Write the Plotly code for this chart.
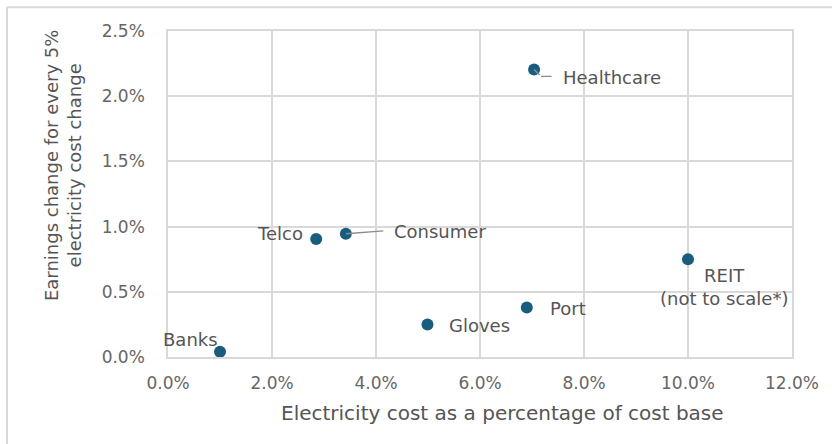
import plotly.graph_objects as go

sectors = ["Banks", "Telco", "Consumer", "Healthcare", "Gloves", "Port", "REIT"]
elec_cost_pct = [1.0, 2.85, 3.42, 7.04, 4.99, 6.90, 10.0]
earnings_change_pct = [0.04, 0.905, 0.945, 2.205, 0.25, 0.38, 0.75]
label_text = ["Banks", "Telco", "Consumer", "Healthcare", "Gloves", "Port", "REIT<br>(not to scale*)"]
x_ticks = [0, 2, 4, 6, 8, 10, 12]
y_ticks = [0, 0.5, 1.0, 1.5, 2.0, 2.5]

FONT = "DejaVu Sans"
MARKER = "#195d7e"
GRID = "#d9d9d9"
TXT = "#555555"

fig = go.Figure()
fig.add_trace(go.Scatter(
    x=elec_cost_pct, y=earnings_change_pct, mode="markers",
    marker=dict(size=12, color=MARKER), hoverinfo="text", text=sectors,
))

# label placement (pixel offsets from each point)
offsets = {
    "Banks": dict(xanchor="center", xshift=-30, yshift=12),
    "Telco": dict(xanchor="right", xshift=-11, yshift=5),
    "Consumer": dict(xanchor="left", xshift=46, yshift=2),
    "Healthcare": dict(xanchor="left", xshift=27, yshift=-8),
    "Gloves": dict(xanchor="left", xshift=20, yshift=-1),
    "Port": dict(xanchor="left", xshift=21, yshift=-1),
    "REIT": dict(xanchor="center", xshift=36, yshift=-28),
}
for name, xv, yv, lab in zip(sectors, elec_cost_pct, earnings_change_pct, label_text):
    o = offsets[name]
    fig.add_annotation(x=xv, y=yv, text=lab, showarrow=False, align="center",
                       font=dict(family=FONT, size=18, color=TXT), yanchor="middle", **o)

# leader lines
lead = {"Consumer": [dict(xshift=0, yshift=0, ax=39, ay=-3)],
        "Healthcare": [dict(xshift=0, yshift=0, ax=7, ay=7),
                       dict(xshift=7, yshift=-7, ax=12, ay=0)]}
for name, segs in lead.items():
    i = sectors.index(name)
    for s in segs:
        fig.add_annotation(x=elec_cost_pct[i], y=earnings_change_pct[i], text="",
                           showarrow=True, arrowhead=0, arrowwidth=1.3, arrowcolor="#8c8c8c",
                           standoff=0, startstandoff=0, axref="pixel", ayref="pixel", **s)

# axis titles
fig.add_annotation(xref="paper", yref="paper", x=(502 - 168) / 624, y=(357.3 - 413) / 326.6,
                   text="Electricity cost as a percentage of cost base", showarrow=False,
                   font=dict(family=FONT, size=20, color=TXT), xanchor="center", yanchor="middle")
fig.add_annotation(xref="paper", yref="paper", x=(63 - 168) / 624, y=(357.3 - 165) / 326.6,
                   text="Earnings change for every 5%<br>electricity cost change", showarrow=False,
                   textangle=-90, font=dict(family=FONT, size=18, color=TXT),
                   xanchor="center", yanchor="middle", align="center")

# outer chart border (partially visible)
fig.add_shape(type="line", xref="paper", yref="paper", x0=(7 - 168) / 624, x1=1.2,
              y0=(357.3 - 7) / 326.6, y1=(357.3 - 7) / 326.6, line=dict(color=GRID, width=2))
fig.add_shape(type="line", xref="paper", yref="paper", x0=(7 - 168) / 624, x1=(7 - 168) / 624,
              y0=(357.3 - 7) / 326.6, y1=-0.5, line=dict(color=GRID, width=2))

fig.update_layout(
    width=832, height=444, margin=dict(l=168, r=40, t=31, b=87),
    paper_bgcolor="white", plot_bgcolor="white", showlegend=False,
    font=dict(family=FONT, color=TXT),
)
fig.update_xaxes(range=[0, 12], tickvals=x_ticks, ticktext=[f"{v:.1f}%" for v in x_ticks],
                 showgrid=True, gridcolor=GRID, gridwidth=1.5, zeroline=False,
                 showline=True, linecolor=GRID, linewidth=1.5, mirror=True,
                 tickfont=dict(family=FONT, size=17, color="#666666"), ticks="",
                 ticklabelstandoff=10)
fig.update_yaxes(range=[0, 2.5], tickvals=y_ticks, ticktext=[f"{v:.1f}%" for v in y_ticks],
                 showgrid=True, gridcolor=GRID, gridwidth=1.5, zeroline=False,
                 showline=True, linecolor=GRID, linewidth=1.5, mirror=True,
                 tickfont=dict(family=FONT, size=17, color="#666666"), ticks="",
                 ticklabelstandoff=18)

fig.write_html("out.html")
